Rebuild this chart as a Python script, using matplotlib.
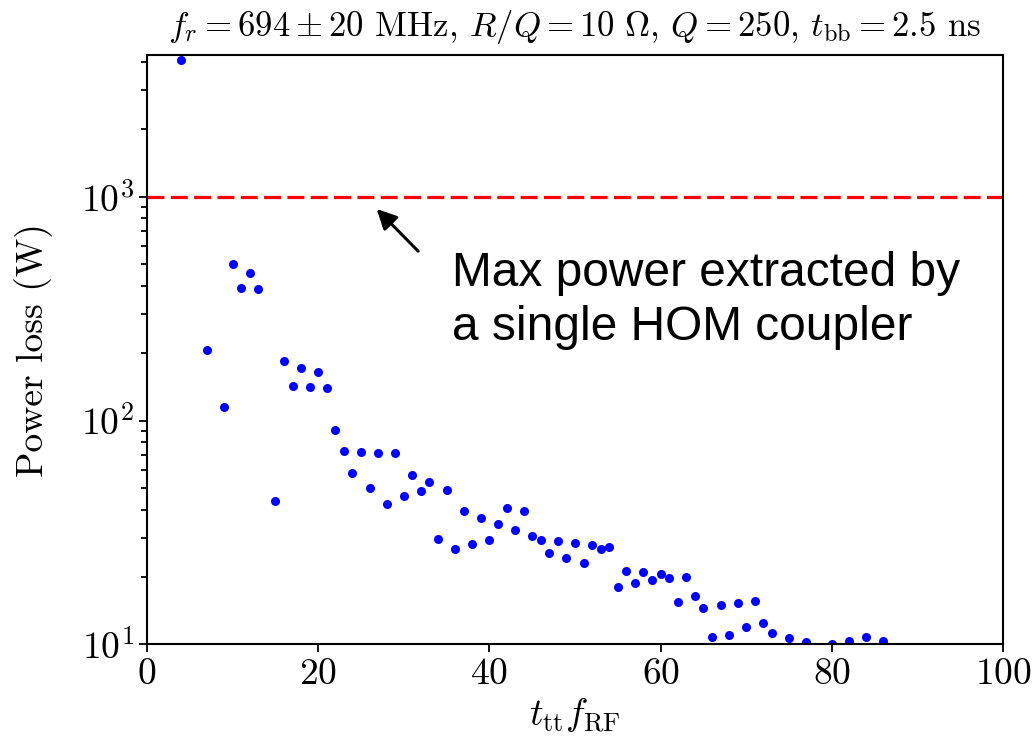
import matplotlib
matplotlib.use("Agg")
import matplotlib.pyplot as plt
import numpy as np

plt.rcParams['font.family'] = 'serif'
plt.rcParams['font.serif'] = ['cmr10']
plt.rcParams['mathtext.fontset'] = 'cm'
plt.rcParams['axes.formatter.use_mathtext'] = True

# data (x = t_tt * f_RF, y = power loss in W)
x = [4, 7, 9, 10, 11, 12, 13, 15, 16, 17, 18, 19, 20, 21, 22, 23, 24, 25,
     26, 27, 28, 29, 30, 31, 32, 33, 34, 35, 36, 37, 38, 39, 40, 41, 42, 43,
     44, 45, 46, 47, 48, 49, 50, 51, 52, 53, 54, 55, 56, 57, 58, 59, 60, 61,
     62, 63, 64, 65, 66, 67, 68, 69, 70, 71, 72, 73, 75, 77, 80, 82, 84, 86]
p = [4080, 206, 115, 500, 392, 455, 386, 43.9, 185, 143, 172, 141, 164, 140,
     91, 73.3, 58, 72.6, 49.8, 71.8, 42.5, 71.3, 45.8, 57.3, 48.4, 53, 29.6,
     48.9, 26.8, 39.4, 28.0, 36.8, 29.3, 34.5, 40.5, 32.3, 39.4, 30.4, 29.3,
     25.6, 28.9, 24.3, 28.4, 23.1, 27.8, 26.8, 27.1, 18.1, 21.3, 18.8, 21.0,
     19.4, 20.7, 19.8, 15.5, 20.0, 16.4, 14.5, 10.8, 15.0, 11.0, 15.3, 11.9,
     15.6, 12.5, 11.2, 10.7, 10.2, 10.0, 10.4, 10.8, 10.4]
p_max = 1000  # max power of one HOM coupler

fig = plt.figure(figsize=(10.34, 7.48), dpi=100)
ax = fig.add_axes([0.1422, 0.1386, 0.8278, 0.7879])

ax.plot(x, p, 'o', color='blue', ms=6.5, mew=0)
ax.axhline(p_max, color='red', lw=2.3, ls='--', dashes=(5.3, 2))

ax.set_yscale('log')
ax.set_xlim(0, 100)
ax.set_ylim(10, 4300)

ax.set_xlabel(r'$t_{\rm tt} f_{\rm RF}$', fontsize=27)
ax.set_ylabel('Power loss (W)', fontsize=27, labelpad=20)
ax.set_title(r'$f_r = 694 \pm 20$ MHz, $R/Q = 10\ \Omega$, $Q = 250$, $t_{\rm bb} = 2.5$ ns',
             fontsize=25, pad=14)

ax.tick_params(which='both', direction='out', width=1.3, labelsize=27)
ax.tick_params(which='major', length=6)
ax.tick_params(which='minor', length=4)
for s in ax.spines.values():
    s.set_linewidth(1.5)

ax.annotate('', xy=(26.6, 900), xytext=(31.9, 560),
            arrowprops=dict(arrowstyle='-|>', mutation_scale=30, lw=2.2, color='black'))
ax.text(0.356, 0.584, 'Max power extracted by\na single HOM coupler',
        transform=ax.transAxes, fontsize=34.5, family='Liberation Sans',
        ha='left', va='center', linespacing=1.25)

fig.savefig('out.png', dpi=100)
